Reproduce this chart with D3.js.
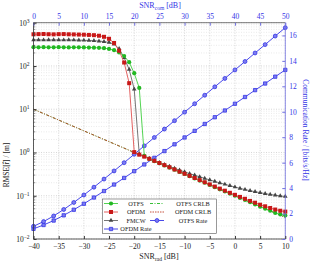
<!DOCTYPE html>
<html>
<head>
<meta charset="utf-8">
<script src="https://cdn.jsdelivr.net/npm/d3@7"></script>
<style>
body { margin: 0; background: #fff; }
svg text { font-family: "Liberation Serif", "DejaVu Serif", serif; }
</style>
</head>
<body>
<div id="plot-area"></div>
<script>
// SNR_rad grid (dB) for the RMSE curves
snrRad = [-40,-39,-38,-37,-36,-35,-34,-33,-32,-31,-30,-29,-28,-27,-26,-25,-24,-23,-22,-21,-20,
  -19,-18,-17,-16,-15,-14,-13,-12,-11,-10,-9,-8,-7,-6,-5,-4,-3,-2,-1,0,1,2,3,4,5,6,7,8,9,10]

otfsRmse = [272,270,271,269,270,272,270,268,269,270,268,266,265,262,258,248,232,205,170,122,68,
  31,0.84,0.71,0.63,0.565,0.50,0.447,0.40,0.355,0.318,0.283,0.252,0.224,0.200,0.178,0.158,0.141,
  0.126,0.112,0.100,0.089,0.080,0.071,0.063,0.056,0.050,0.045,0.040,0.037,0.035]

ofdmRmse = [540,545,548,542,538,544,546,540,536,532,528,522,515,500,472,425,340,225,120,40,1.02,
  0.89,0.80,0.715,0.64,0.57,0.51,0.455,0.405,0.36,0.322,0.288,0.257,0.23,0.205,0.183,0.163,0.146,
  0.131,0.117,0.105,0.094,0.085,0.076,0.069,0.062,0.057,0.052,0.048,0.045,0.043]

fmcwRmse = [400,402,398,400,401,399,398,400,397,395,392,388,383,376,366,350,318,250,155,83,29,
  0.92,0.82,0.73,0.65,0.585,0.525,0.475,0.43,0.39,0.355,0.325,0.298,0.274,0.252,0.232,0.214,0.198,
  0.184,0.171,0.159,0.148,0.139,0.131,0.124,0.118,0.112,0.107,0.103,0.099,0.096]

crlbSnr = [-40,-35,-30,-25,-20,-15,-10,-5,0,5,10]
otfsCrlb = [10,5.62,3.16,1.78,1.0,0.562,0.316,0.178,0.1,0.0562,0.0316]
ofdmCrlb = [10,5.62,3.16,1.78,1.0,0.562,0.316,0.178,0.1,0.0562,0.0316]

// SNR_com grid (dB) for the rate curves
snrCom = [0,2,4,6,8,10,12,14,16,18,20,22,24,26,28,30,32,34,36,38,40,42,44,46,48,50]
otfsRate = [1.00,1.37,1.81,2.32,2.87,3.46,4.07,4.71,5.35,6.00,6.66,7.32,7.98,8.64,9.30,9.97,
  10.63,11.30,11.96,12.62,13.29,13.95,14.62,15.28,15.95,16.61]
ofdmRate = [0.80,1.10,1.45,1.86,2.30,2.77,3.26,3.77,4.28,4.80,5.33,5.86,6.38,6.91,7.44,7.98,
  8.50,9.04,9.57,10.10,10.63,11.16,11.70,12.22,12.76,13.29]

xTicks = [-40,-35,-30,-25,-20,-15,-10,-5,0,5,10]
xTopTicks = [0,5,10,15,20,25,30,35,40,45,50]
yTicks = [0.01,0.1,1,10,100,1000]
yRightTicks = [0,2,4,6,8,10,12,14,16]

width = 312
height = 264
L = 33.5, R = 285.3, T = 22.7, B = 239

cGreen = '#22b822'
cRed = '#c81818'
cGray = '#444444'
cBlue = '#3434e6'
cBlueFill = '#7c7cf0'
cAxisBlue = '#6f6fe0'
cCrlbRed = '#bf3f28'

svg = d3.select('#plot-area').append('svg')
  .attr('width', width)
  .attr('height', height)

xScale = d3.scaleLinear().domain([-40, 10]).range([L, R])
xTop = d3.scaleLinear().domain([0, 50]).range([L, R])
yScale = d3.scaleLog().domain([0.01, 1000]).range([B, T])
yRight = d3.scaleLinear().domain([0, 17]).range([B, T])

// grid
grid = svg.append('g')
minor = []
for (e = -2; e < 3; e++) for (m = 2; m < 10; m++) minor.push(m * Math.pow(10, e))
grid.selectAll('.ymin').data(minor).enter().append('line')
  .attr('x1', L).attr('x2', R)
  .attr('y1', d => yScale(d)).attr('y2', d => yScale(d))
  .attr('stroke', '#d4d4d4').attr('stroke-width', 0.5).attr('stroke-dasharray', '1,1.5')
grid.selectAll('.ymaj').data(yTicks).enter().append('line')
  .attr('x1', L).attr('x2', R)
  .attr('y1', d => yScale(d)).attr('y2', d => yScale(d))
  .attr('stroke', '#bbb').attr('stroke-width', 0.6).attr('stroke-dasharray', '1,1.5')
grid.selectAll('.xmaj').data(xTicks).enter().append('line')
  .attr('y1', T).attr('y2', B)
  .attr('x1', d => xScale(d)).attr('x2', d => xScale(d))
  .attr('stroke', '#bbb').attr('stroke-width', 0.6).attr('stroke-dasharray', '1,1.5')

// CRLB lines
lineC = d3.line().x((d, i) => xScale(crlbSnr[i])).y(d => yScale(d))
svg.append('path').datum(otfsCrlb).attr('d', lineC).attr('fill', 'none')
  .attr('stroke', cGreen).attr('stroke-width', 0.8).attr('stroke-dasharray', '3,1.5,1,1.5')
svg.append('path').datum(ofdmCrlb).attr('d', lineC).attr('fill', 'none')
  .attr('stroke', cCrlbRed).attr('stroke-width', 0.9).attr('stroke-dasharray', '3,1.5,1,1.5')

// rate curves
lineRate = d3.line().x((d, i) => xTop(snrCom[i])).y(d => yRight(d))
rates = [{v: ofdmRate, m: 'square'}, {v: otfsRate, m: 'circle'}]
rates.forEach(function(s) {
  svg.append('path').datum(s.v).attr('d', lineRate).attr('fill', 'none')
    .attr('stroke', cBlue).attr('stroke-width', 0.9)
  svg.append('g').selectAll('path').data(s.v).enter().append('path')
    .attr('d', d3.symbol().type(s.m == 'square' ? d3.symbolSquare : d3.symbolCircle).size(s.m == 'square' ? 11 : 12))
    .attr('transform', (d, i) => 'translate(' + xTop(snrCom[i]) + ',' + yRight(d) + ')')
    .attr('fill', cBlueFill).attr('stroke', cBlue).attr('stroke-width', 0.8)
})

// RMSE curves
lineR = d3.line().x((d, i) => xScale(snrRad[i])).y(d => yScale(d))
series = [
  {v: fmcwRmse, c: cGray, lc: '#666', sym: d3.symbolTriangle, s: 9},
  {v: otfsRmse, c: cGreen, lc: '#3fcf3f', sym: d3.symbolCircle, s: 14},
  {v: ofdmRmse, c: cRed, lc: '#e05050', sym: d3.symbolSquare, s: 16}
]
series.forEach(function(s) {
  svg.append('path').datum(s.v).attr('d', lineR).attr('fill', 'none')
    .attr('stroke', s.lc).attr('stroke-width', 0.9)
  svg.append('g').selectAll('path').data(s.v).enter().append('path')
    .attr('d', d3.symbol().type(s.sym).size(s.s))
    .attr('transform', (d, i) => 'translate(' + xScale(snrRad[i]) + ',' + yScale(d) + ')')
    .attr('fill', s.c)
})

// frame
svg.append('line').attr('x1', L).attr('x2', R).attr('y1', T).attr('y2', T).attr('stroke', '#555').attr('stroke-width', 0.8)
svg.append('line').attr('x1', L).attr('x2', R).attr('y1', B).attr('y2', B).attr('stroke', '#333').attr('stroke-width', 0.8)
svg.append('line').attr('x1', L).attr('x2', L).attr('y1', T).attr('y2', B).attr('stroke', '#333').attr('stroke-width', 0.8)
svg.append('line').attr('x1', R).attr('x2', R).attr('y1', T).attr('y2', B).attr('stroke', cAxisBlue).attr('stroke-width', 0.8)

// axes
xAxis = d3.axisBottom(xScale).tickValues(xTicks).tickSize(-3).tickPadding(5)
  .tickFormat(d => d < 0 ? '\u2212' + (-d) : d)
gx = svg.append('g').attr('transform', 'translate(0,' + B + ')').call(xAxis)
gx.select('.domain').remove()
gx.selectAll('text').attr('font-size', 7.5).attr('fill', '#222')
gx.selectAll('line').attr('stroke', '#333')

xTopAxis = d3.axisTop(xTop).tickValues(xTopTicks).tickSize(-3).tickPadding(4)
gt = svg.append('g').attr('transform', 'translate(0,' + T + ')').call(xTopAxis)
gt.select('.domain').remove()
gt.selectAll('text').attr('font-size', 7.5).attr('fill', cBlue)
gt.selectAll('line').attr('stroke', cAxisBlue)

yAxis = d3.axisLeft(yScale).tickValues(yTicks).tickSize(-3).tickPadding(4).tickFormat('')
gy = svg.append('g').attr('transform', 'translate(' + L + ',0)').call(yAxis)
gy.select('.domain').remove()
gy.selectAll('line').attr('stroke', '#333')
gy.selectAll('.tick text').each(function(d) {
  t = d3.select(this).attr('font-size', 7.5).attr('fill', '#222')
  t.append('tspan').text('10')
  t.append('tspan').attr('dy', -3).attr('font-size', 5.5).text(String(Math.round(Math.log10(d))).replace('-', '\u2212'))
})
gy.selectAll('.minor').data(minor).enter().append('line')
  .attr('x1', 0).attr('x2', 1.8)
  .attr('y1', d => yScale(d)).attr('y2', d => yScale(d))
  .attr('stroke', '#333').attr('stroke-width', 0.5)

yRAxis = d3.axisRight(yRight).tickValues(yRightTicks).tickSize(-3).tickPadding(4)
gr = svg.append('g').attr('transform', 'translate(' + R + ',0)').call(yRAxis)
gr.select('.domain').remove()
gr.selectAll('text').attr('font-size', 7.5).attr('fill', cBlue)
gr.selectAll('line').attr('stroke', cAxisBlue)

// axis labels
xl = svg.append('text').attr('x', 159).attr('y', 259).attr('text-anchor', 'middle')
  .attr('font-size', 8).attr('fill', '#222')
xl.append('tspan').text('SNR')
xl.append('tspan').attr('dy', 2).attr('font-size', 5.5).text('rad')
xl.append('tspan').attr('dy', -2).text(' [dB]')

tl = svg.append('text').attr('x', 160).attr('y', 8).attr('text-anchor', 'middle')
  .attr('font-size', 8).attr('fill', cBlue)
tl.append('tspan').text('SNR')
tl.append('tspan').attr('dy', 2).attr('font-size', 5.5).text('com')
tl.append('tspan').attr('dy', -2).text(' [dB]')

svg.append('text').attr('transform', 'translate(9,165) rotate(-90)').attr('text-anchor', 'middle')
  .attr('font-size', 7.5).attr('fill', '#222').text('RMSE[r\u0302] / [m]')

svg.append('text').attr('transform', 'translate(303,130) rotate(90)').attr('text-anchor', 'middle')
  .attr('font-size', 7.5).attr('fill', cBlue).text('Communication Rate / [bits/s/Hz]')

// legend
leg = svg.append('g')
leg.append('rect').attr('x', 102.5).attr('y', 199).attr('width', 114).attr('height', 34.5)
  .attr('fill', '#fff').attr('stroke', '#555').attr('stroke-width', 0.6)
legItems = [
  {t: 'OTFS', col: 0, row: 0, c: cGreen, lc: '#3fcf3f', sym: d3.symbolCircle, s: 14},
  {t: 'OFDM', col: 0, row: 1, c: cRed, lc: '#e05050', sym: d3.symbolSquare, s: 16},
  {t: 'FMCW', col: 0, row: 2, c: cGray, lc: '#666', sym: d3.symbolTriangle, s: 9},
  {t: 'OFDM Rate', col: 0, row: 3, c: cBlueFill, lc: cBlue, sym: d3.symbolSquare, s: 11, st: cBlue},
  {t: 'OTFS CRLB', col: 1, row: 0, lc: cGreen, dash: '3,1.5,1,1.5'},
  {t: 'OFDM CRLB', col: 1, row: 1, lc: cCrlbRed, dash: '1.5,1'},
  {t: 'OTFS Rate', col: 1, row: 2, c: cBlueFill, lc: cBlue, sym: d3.symbolCircle, s: 12, st: cBlue}
]
legItems.forEach(function(d) {
  x0 = d.col == 0 ? 104 : 150
  yy = 203.5 + d.row * 8.5
  leg.append('line').attr('x1', x0).attr('x2', x0 + 14).attr('y1', yy).attr('y2', yy)
    .attr('stroke', d.lc).attr('stroke-width', 0.9).attr('stroke-dasharray', d.dash || null)
  if (d.sym) {
    leg.append('path').attr('d', d3.symbol().type(d.sym).size(d.s))
      .attr('transform', 'translate(' + (x0 + 7) + ',' + yy + ')')
      .attr('fill', d.c).attr('stroke', d.st || 'none').attr('stroke-width', 0.8)
  }
  leg.append('text').attr('x', d.col == 0 ? 136 : 193).attr('y', yy + 2.3)
    .attr('text-anchor', 'middle').attr('font-size', 6.3).attr('fill', '#222').text(d.t)
})
</script>
</body>
</html>
